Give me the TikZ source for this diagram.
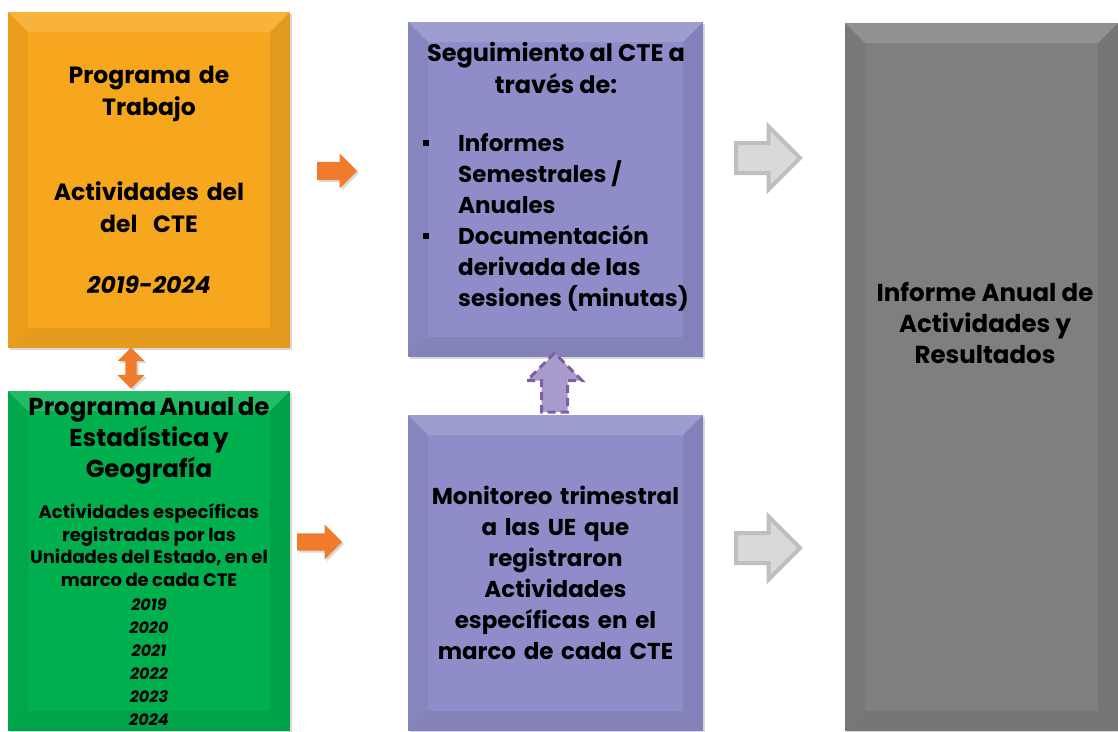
\documentclass[tikz,border=0pt]{standalone}
\usepackage{fontspec}
\setmainfont{Poppins}
\usetikzlibrary{shapes.arrows,shadows,positioning}
\definecolor{progorange}{HTML}{F7A71E}
\definecolor{paegreen}{HTML}{00B04F}
\definecolor{segpurple}{HTML}{8E8DC9}
\definecolor{infgray}{HTML}{7F7F7F}
\definecolor{arroworange}{HTML}{F07B2C}
\definecolor{arrowgray}{HTML}{D9D9D9}
\definecolor{arrowgrayline}{HTML}{BFBFBF}
\definecolor{upfill}{HTML}{A99BCB}
\definecolor{upline}{HTML}{7E5FA6}
\newcommand\sqbullet{\raisebox{5pt}{\rule{6pt}{6pt}}}
\tikzset{
  bevel/.style={
    path picture={
      \fill[white,opacity=.14] (path picture bounding box.north west) -- (path picture bounding box.north east)
        -- ([shift={(-20pt,-20pt)}]path picture bounding box.north east) -- ([shift={(20pt,-20pt)}]path picture bounding box.north west) -- cycle;
      \fill[black,opacity=.07] (path picture bounding box.south west) -- (path picture bounding box.south east)
        -- ([shift={(-20pt,20pt)}]path picture bounding box.south east) -- ([shift={(20pt,20pt)}]path picture bounding box.south west) -- cycle;
      \fill[black,opacity=.05] (path picture bounding box.north west) -- (path picture bounding box.south west)
        -- ([shift={(20pt,20pt)}]path picture bounding box.south west) -- ([shift={(20pt,-20pt)}]path picture bounding box.north west) -- cycle;
      \fill[black,opacity=.08] (path picture bounding box.north east) -- (path picture bounding box.south east)
        -- ([shift={(-20pt,20pt)}]path picture bounding box.south east) -- ([shift={(-20pt,-20pt)}]path picture bounding box.north east) -- cycle;
    }
  },
  box/.style={
    rectangle, inner sep=0pt, align=center, text=black,
    drop shadow={opacity=.3,shadow xshift=2pt,shadow yshift=-2pt},
    bevel
  },
  boxtext/.style={
    align=center, inner sep=0pt, text=black
  },
  orangearrow/.style={
    single arrow, fill=arroworange, inner xsep=0pt, anchor=tail,
    drop shadow={opacity=.3,shadow xshift=2pt,shadow yshift=-2pt}
  },
  grayarrow/.style={
    single arrow, fill=arrowgray, draw=arrowgrayline, line width=4pt,
    inner xsep=0pt, inner ysep=13pt, single arrow head extend=16.5pt,
    minimum height=64pt, anchor=tail
  }
}
\begin{document}
\begin{tikzpicture}[x=1pt,y=-1pt]
  \useasboundingbox (0,0) rectangle (1118,731);

  % left column
  \node[box,fill=progorange,minimum width=282pt,minimum height=336pt,text width=270pt,
    font=\fontsize{23.5}{32}\selectfont\bfseries] (programa) at (149,180)
    {Programa de\\Trabajo\\[53pt]Actividades del\\del\ \ CTE\\[29pt]\textit{2019-2024}};

  \node[box,fill=paegreen,minimum width=282pt,minimum height=340pt,text width=280pt,font=\bfseries] (anual) at (149,561)
    {{\fontsize{24.5}{31}\selectfont Programa Anual de\\Estadística y\\Geografía\par}
     \vspace{19pt}
     {\fontsize{18}{22.5}\selectfont Actividades específicas\\registradas por las\\Unidades del Estado, en el\\marco de cada CTE\par}
     \vspace{1pt}
     {\fontsize{16}{23}\selectfont\itshape 2019\\2020\\2021\\2022\\2023\\2024\par}};

  \node[double arrow, fill=arroworange, shape border rotate=90, inner ysep=0pt, inner xsep=5.5pt,
    double arrow head extend=8pt, minimum height=41pt,
    drop shadow={opacity=.3,shadow xshift=2pt,shadow yshift=-2pt}] (ida) at (131,368) {};

  % middle column
  \node[box,fill=segpurple,minimum width=295pt,minimum height=335pt] (seguimiento) at (555.5,189.5) {};
  \node[boxtext,font=\fontsize{24}{32}\selectfont\bfseries] (segtitle) at (556,68) {Seguimiento al CTE a\\través de:};
  \node[boxtext,align=left,anchor=north west,font=\fontsize{23}{31}\selectfont\bfseries] (seglist) at (423,133)
    {\makebox[35pt][l]{\sqbullet}Informes\\
     \hspace*{35pt}Semestrales /\\
     \hspace*{35pt}Anuales\\
     \makebox[35pt][l]{\sqbullet}Documentación\\
     \hspace*{35pt}derivada de las\\
     \hspace*{35pt}sesiones (minutas)};

  \node[box,fill=segpurple,minimum width=295pt,minimum height=316pt,text width=290pt,
    font=\fontsize{23}{31}\selectfont\bfseries] (monitoreo) at (555.5,573)
    {Monitoreo trimestral\\a las UE que\\registraron\\Actividades\\específicas en el\\marco de cada CTE};

  \node[single arrow, fill=upfill, draw=upline, line width=3pt, dash pattern=on 8pt off 5pt,
    shape border rotate=90, inner ysep=0pt, inner xsep=11.5pt, anchor=tail,
    single arrow head extend=14.5pt, minimum height=59pt] (subida) at (554.5,413.5) {};

  \node[orangearrow,inner ysep=9pt,single arrow head extend=8.5pt,minimum height=40pt] (flechaa) at (317,171) {};
  \node[orangearrow,inner ysep=8.5pt,single arrow head extend=9pt,minimum height=45pt] (flechab) at (297,542) {};

  % right column
  \node[box,fill=infgray,minimum width=273pt,minimum height=708pt] (informe) at (981.5,377) {};
  \node[boxtext,font=\fontsize{24.5}{31}\selectfont\bfseries] (inftext) at (985,323)
    {Informe Anual de\\Actividades y\\Resultados};

  \node[grayarrow] (flechac) at (734,158) {};
  \node[grayarrow] (flechad) at (734,548) {};
\end{tikzpicture}
\end{document}
